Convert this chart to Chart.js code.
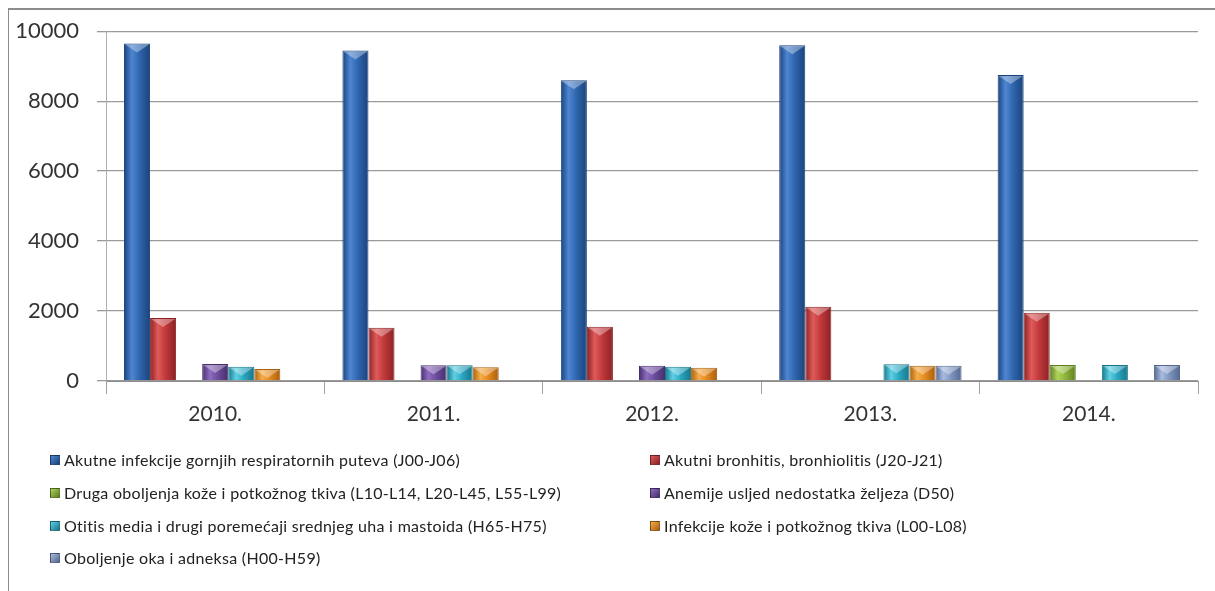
<!DOCTYPE html>
<html>
<head>
<meta charset="utf-8">
<script src="https://cdn.jsdelivr.net/npm/chart.js@4.4.1/dist/chart.umd.min.js"></script>
<style>
  body { margin: 0; background: #fff; width: 1215px; height: 591px; overflow: hidden; position: relative; font-family: Lato, "Open Sans", sans-serif; }
  #frame { position: absolute; left: 8px; top: 8px; width: 1240px; height: 620px; border-left: 1px solid #8c8c8c; border-top: 2px solid #8c8c8c; box-sizing: border-box; }
  #wrap { position: absolute; left: 0; top: 0; width: 1215px; height: 431px; }
  #legend { position: absolute; left: 0; top: 0; width: 1215px; height: 591px; pointer-events: none; }
  .item { position: absolute; font-size: 16px; letter-spacing: 0.3px; color: #222; white-space: nowrap; line-height: 20px; }
  .box { display: inline-block; width: 8px; height: 8px; margin-right: 4px; vertical-align: 1px; border: 1px solid rgba(0,0,0,0.35); }
</style>
</head>
<body>
<div id="frame"></div>
<div id="wrap"><canvas id="chart"></canvas></div>
<div id="legend"></div>
<script>
const years = ['2010.', '2011.', '2012.', '2013.', '2014.']
const seriesNames = [
    'Akutne infekcije gornjih respiratornih puteva (J00-J06)',
    'Akutni bronhitis, bronhiolitis (J20-J21)',
    'Druga oboljenja kože i potkožnog tkiva (L10-L14, L20-L45, L55-L99)',
    'Anemije usljed nedostatka željeza (D50)',
    'Otitis media i drugi poremećaji srednjeg uha i mastoida (H65-H75)',
    'Infekcije kože i potkožnog tkiva (L00-L08)',
    'Oboljenje oka i adneksa (H00-H59)'
]
const respiratory = [9650, 9450, 8600, 9600, 8750]
const bronchitis = [1800, 1520, 1550, 2120, 1950]
const skinOther = [null, null, null, null, 455]
const anemia = [485, 450, 435, null, null]
const otitis = [410, 450, 410, 480, 455]
const skinInfection = [340, 390, 380, 435, null]
const eye = [null, null, null, 435, 455]
const yTicks = [0, 2000, 4000, 6000, 8000, 10000]

// base, light, dark
const palette = [
    ['#2e65ad', '#4d86d2', '#1b437b'],
    ['#c0383a', '#e05a5a', '#8a2224'],
    ['#8db43c', '#aed35a', '#5f7f22'],
    ['#6b4c9b', '#8e6cc0', '#472f6d'],
    ['#2aa6c0', '#5fd0e4', '#17768a'],
    ['#e3891f', '#f6ad4a', '#a85f0e'],
    ['#7e95c0', '#a8bce0', '#55688f']
]

const seriesValues = [respiratory, bronchitis, skinOther, anemia, otitis, skinInfection, eye]
const groupShare = 0.835

function barGradient(context) {
    const chart = context.chart
    const colors = palette[context.datasetIndex]
    const xs = chart.scales.x
    if (!xs || !chart.chartArea || context.dataIndex === undefined) return colors[0]
    const catW = (xs.right - xs.left) / years.length
    const barW = catW * groupShare / seriesValues.length
    const center = xs.getPixelForValue(context.dataIndex) + (context.datasetIndex - (seriesValues.length - 1) / 2) * barW
    const g = chart.ctx.createLinearGradient(center - barW / 2, 0, center + barW / 2, 0)
    g.addColorStop(0, colors[2])
    g.addColorStop(0.3, colors[1])
    g.addColorStop(0.6, colors[0])
    g.addColorStop(1, colors[2])
    return g
}

// light triangle on bar tops
const topShine = {
    id: 'topShine',
    afterDatasetsDraw(chart) {
        const ctx = chart.ctx
        chart.data.datasets.forEach((ds, di) => {
            chart.getDatasetMeta(di).data.forEach((bar, i) => {
                if (ds.data[i] == null) return
                const half = bar.width / 2
                ctx.save()
                ctx.fillStyle = 'rgba(255,255,255,0.35)'
                ctx.beginPath()
                ctx.moveTo(bar.x - half + 1, bar.y + 1)
                ctx.lineTo(bar.x + half - 1, bar.y + 1)
                ctx.lineTo(bar.x, bar.y + 9)
                ctx.closePath()
                ctx.fill()
                ctx.restore()
            })
        })
    }
}

const datasets = seriesValues.map((values, i) => ({
    label: seriesNames[i],
    data: values,
    backgroundColor: barGradient,
    borderColor: palette[i][2],
    borderWidth: 1,
    categoryPercentage: groupShare,
    barPercentage: 1
}))

const config = {
    type: 'bar',
    data: { labels: years, datasets: datasets },
    plugins: [topShine],
    options: {
        responsive: false,
        animation: false,
        layout: { padding: { top: 30, right: 17, left: 0, bottom: 0 } },
        plugins: {
            legend: { display: false },
            tooltip: { enabled: false }
        },
        scales: {
            x: {
                afterFit: (scale) => { scale.height = 50 },
                grid: { drawOnChartArea: false, drawTicks: true, tickLength: 13, color: '#a0a0a0', offset: true },
                border: { color: '#8c8c8c', width: 1 },
                ticks: { color: '#333', padding: 8, font: { family: 'Lato', size: 21 } }
            },
            y: {
                min: 0,
                max: 10000,
                afterFit: (scale) => { scale.width = 106 },
                afterBuildTicks: (scale) => { scale.ticks = yTicks.map(v => ({ value: v })) },
                grid: { color: '#9a9a9a', lineWidth: 1.3, tickLength: 9 },
                border: { color: '#b0b0b0', width: 1 },
                ticks: {
                    color: '#333',
                    padding: 18,
                    font: { family: 'Lato', size: 22 },
                    callback: (value) => String(value)
                }
            }
        }
    }
}

const canvas = document.getElementById('chart')
canvas.width = 1215
canvas.height = 431
new Chart(canvas, config)

// two-column legend, row-major like the original
const legend = document.getElementById('legend')
const colX = [50, 650]
const rowY = [450, 483, 516, 548]
seriesNames.forEach((name, i) => {
    const item = document.createElement('div')
    item.className = 'item'
    item.style.left = colX[i % 2] + 'px'
    item.style.top = rowY[Math.floor(i / 2)] + 'px'
    const box = document.createElement('span')
    box.className = 'box'
    box.style.background = 'linear-gradient(135deg,' + palette[i][1] + ',' + palette[i][2] + ')'
    item.appendChild(box)
    item.appendChild(document.createTextNode(name))
    legend.appendChild(item)
})
</script>
</body>
</html>
